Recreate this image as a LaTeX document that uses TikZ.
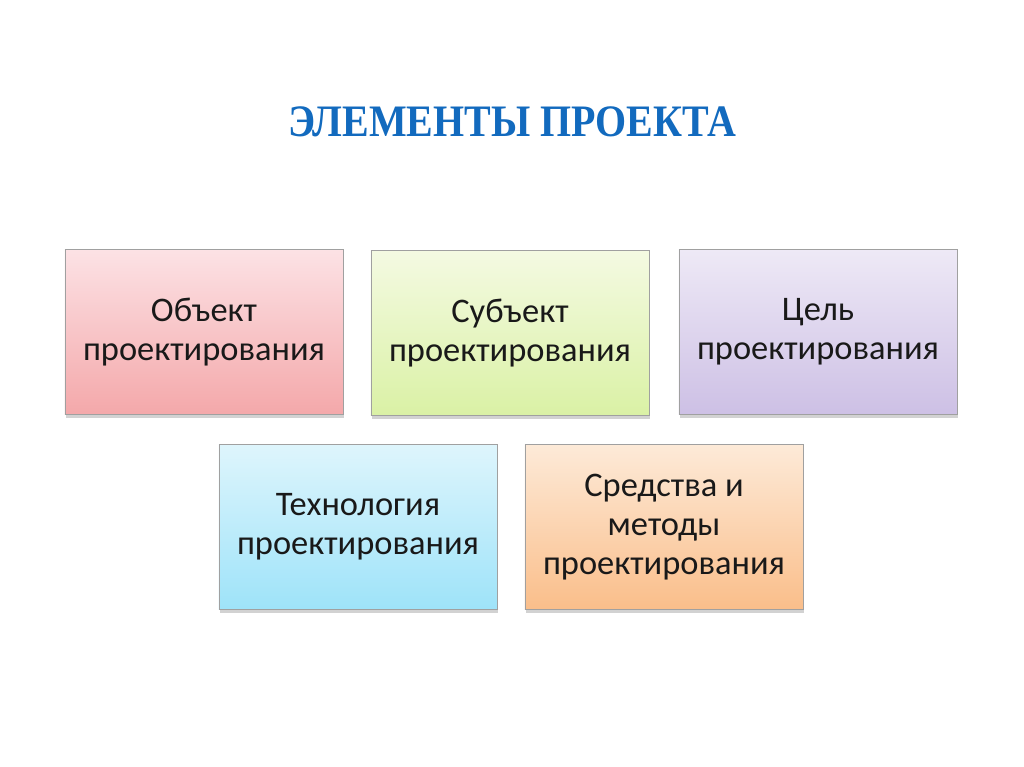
\documentclass[tikz,border=0pt]{standalone}
\usepackage{fontspec}
\setmainfont{Carlito}
\newfontfamily\titlefont{Liberation Serif}
\usetikzlibrary{shadows}
\definecolor{titleblue}{RGB}{18,106,190}
\definecolor{boxline}{RGB}{160,160,160}
\tikzset{
    element/.style={draw=boxline,line width=0.6pt,minimum width=6.95cm,minimum height=4.125cm,
        align=center,font=\fontsize{24.5}{27.7}\selectfont,text=black!90,
        drop shadow={shadow xshift=0.6pt,shadow yshift=-2.2pt,opacity=0.35}},
}
\begin{document}
\begin{tikzpicture}[x=0.025cm,y=-0.025cm]
    \useasboundingbox[fill=white] (0,0) rectangle (1024,767);
    \node[text=titleblue,font=\titlefont\bfseries\fontsize{32}{36}\selectfont,xscale=0.888] (title) at (512,122) {ЭЛЕМЕНТЫ ПРОЕКТА};
    \node[element,top color={rgb,255:red,252;green,226;blue,229},bottom color={rgb,255:red,244;green,168;blue,170}] (obj) at (204,332) {Объект\\проектирования};
    \node[element,top color={rgb,255:red,244;green,250;blue,226},bottom color={rgb,255:red,218;green,241;blue,165}] (subj) at (510,333) {Субъект\\проектирования};
    \node[element,top color={rgb,255:red,238;green,233;blue,246},bottom color={rgb,255:red,205;green,192;blue,229}] (goal) at (818,332) {Цель\\проектирования};
    \node[element,top color={rgb,255:red,222;green,245;blue,252},bottom color={rgb,255:red,158;green,227;blue,249}] (tech) at (358,527) {Технология\\проектирования};
    \node[element,top color={rgb,255:red,253;green,234;blue,216},bottom color={rgb,255:red,250;green,190;blue,138}] (tools) at (664,527) {Средства и\\методы\\проектирования};
\end{tikzpicture}
\end{document}
